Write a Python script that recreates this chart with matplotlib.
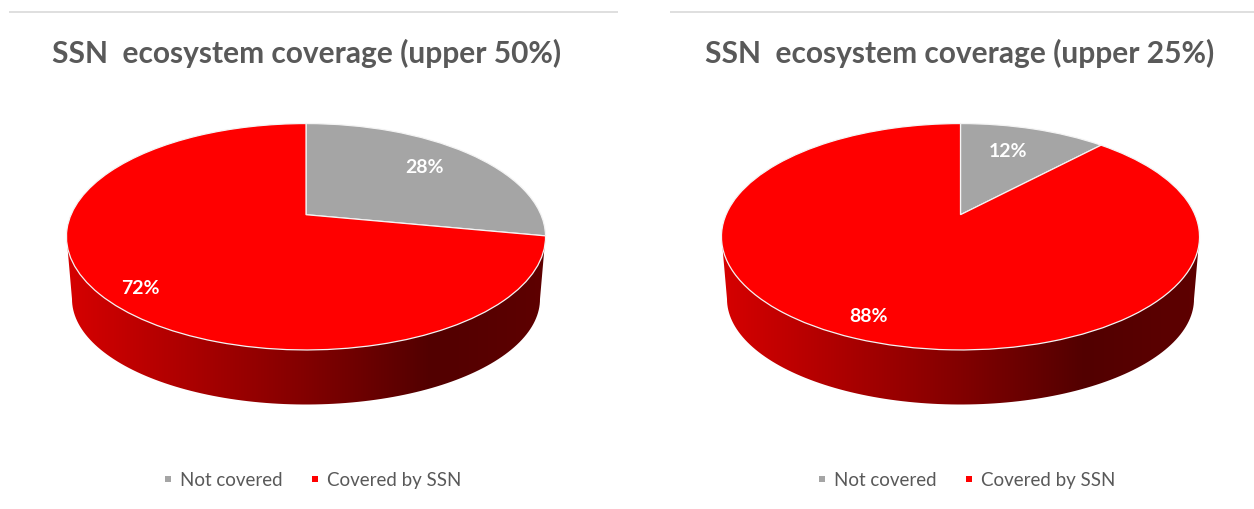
import numpy as np
import matplotlib
matplotlib.use('Agg')
from matplotlib import pyplot as plt
from matplotlib.colors import LinearSegmentedColormap
from matplotlib.lines import Line2D
from matplotlib.patches import PathPatch
from matplotlib.path import Path
from matplotlib.transforms import Transform

titles = ['SSN  ecosystem coverage (upper 50%)', 'SSN  ecosystem coverage (upper 25%)']
categories = ['Not covered', 'Covered by SSN']
upper_50 = [28, 72]
upper_25 = [12, 88]
values = [upper_50, upper_25]

colors = ['#a5a5a5', '#ff0000']
text_color = '#595959'

plt.rcParams['font.family'] = ['Lato', 'DejaVu Sans']

wall_cmap = LinearSegmentedColormap.from_list(
    'wall', [(0, '#d60000'), (0.5, '#820000'), (0.76, '#520000'), (1, '#5e0000')])


class Tilt(Transform):
    # unit circle -> tilted disc, in image pixels
    input_dims = 2
    output_dims = 2

    def __init__(self, cx, half_w):
        super().__init__()
        self.cx = cx
        self.half_w = half_w

    def transform_non_affine(self, xy):
        xy = np.asarray(xy, dtype=float)
        w = 1 + 0.1947 * xy[:, 1]
        px = self.cx + self.half_w * 0.981 * xy[:, 0] / w
        py = (215.7 - 66.9 * xy[:, 1]) / w
        return np.column_stack([px, py])


def draw_wall(ax, cx, half_w):
    t = np.linspace(0, np.pi, 120)
    low_x = cx + (half_w - 5.5) * np.cos(t)
    low_y = 300 + 105.5 * np.sin(t)
    verts = [(cx + half_w, 237)] + list(zip(low_x, low_y)) + [(cx - half_w, 237), (cx + half_w, 237)]
    im = ax.imshow(np.linspace(0, 1, 256)[None, :], cmap=wall_cmap, aspect='auto',
                   extent=[cx - half_w, cx + half_w, 410, 230], zorder=1)
    im.set_clip_path(PathPatch(Path(verts), transform=ax.transData))


fig = plt.figure(figsize=(12.54, 5.10), dpi=100)

centers = [306, 960.5]
half_widths = [239.5, 239]
spans = [(0, 627), (627, 1254)]
rules = [(9, 618), (670, 1254)]
title_x = [307, 960]
label_xy = [[(425, 168), (140, 289)], [(1008, 152), (869, 317)]]
legend_x = [312, 965.5]

for i in range(2):
    ax = fig.add_axes([i * 0.5, 0, 0.5, 1])
    wedges, _ = ax.pie(values[i], colors=colors, startangle=90, counterclock=False,
                       wedgeprops={'edgecolor': '#f4f4f4', 'linewidth': 0.9})
    ax.set_aspect('auto')
    tilt = Tilt(centers[i], half_widths[i])
    for w in wedges:
        w.set_transform(tilt + ax.transData)
        w.set_zorder(2)
        w.set_clip_on(False)

    draw_wall(ax, centers[i], half_widths[i])

    ax.set_xlim(*spans[i])
    ax.set_ylim(510, 0)
    ax.axis('off')

    ax.plot(rules[i], [12.5, 12.5], color='#d9d9d9', lw=1.2, zorder=1, solid_capstyle='butt')
    ax.text(title_x[i], 53, titles[i], ha='center', va='center', color=text_color,
            fontsize=21.5, fontweight='bold')

    for v, (x, y) in zip(values[i], label_xy[i]):
        ax.text(x, y, '%d%%' % v, ha='center', va='center', color='white',
                fontsize=14, fontweight='bold', zorder=5)

    handles = [Line2D([], [], linestyle='none', marker='s', markersize=4.6,
                      markeredgewidth=0, color=c) for c in colors]
    leg = ax.legend(handles, categories, loc='center', ncol=2, frameon=False,
                    bbox_to_anchor=(legend_x[i], 481), bbox_transform=ax.transData,
                    fontsize=13.5, labelcolor=text_color, handlelength=0.6, handletextpad=0.34,
                    columnspacing=1.44)

fig.savefig('out.png', dpi=100)
